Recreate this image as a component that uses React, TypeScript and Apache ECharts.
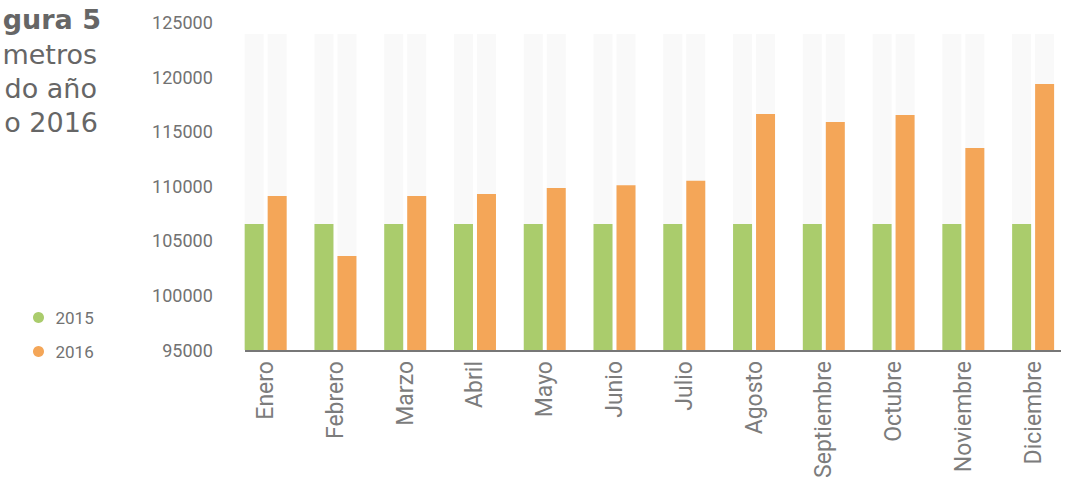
import React, { useEffect, useRef } from "react";
import * as echarts from "echarts";

const months = ["Enero", "Febrero", "Marzo", "Abril", "Mayo", "Junio", "Julio", "Agosto", "Septiembre", "Octubre", "Noviembre", "Diciembre"];
const values2015 = [106550, 106550, 106550, 106550, 106550, 106550, 106550, 106550, 106550, 106550, 106550, 106550];
const values2016 = [109100, 103600, 109100, 109300, 109850, 110100, 110500, 116620, 115890, 116530, 113500, 119370];
const backgroundValues = [123950, 123950, 123950, 123950, 123950, 123950, 123950, 123950, 123950, 123950, 123950, 123950];
const yTicks = { min: 95000, max: 125000, interval: 5000 };
const titleLines = ["gura 5", "metros", "do año", "o 2016"];

const FONT = "Roboto, 'DejaVu Sans', sans-serif";
const TITLE_FONT = "'DejaVu Sans', sans-serif";

export default function App() {
  const ref = useRef<HTMLDivElement>(null);
  useEffect(() => {
    document.body.style.margin = "0";
    const chart = echarts.init(ref.current!, null, { renderer: "svg" });
    const barWidth = 19;
    const barGap = "21%";
    chart.setOption({
      animation: false,
      textStyle: { fontFamily: FONT },
      grid: { left: 230.8, right: -7.1, top: 22.5, bottom: 135, containLabel: false },
      legend: {
        data: ["2015", "2016"],
        orient: "vertical",
        left: 28,
        top: 304,
        icon: "circle",
        itemWidth: 24,
        itemHeight: 11,
        itemGap: 17,
        textStyle: { fontSize: 17, color: "#727272", fontFamily: FONT },
      },
      xAxis: [
        {
          type: "category",
          data: months,
          axisLine: { show: false },
          axisTick: { show: false },
          axisLabel: { rotate: 90, interval: 0, fontSize: 23, color: "#7c7c7c", margin: 11, fontFamily: FONT },
        },
        { type: "category", data: months, show: false },
      ],
      yAxis: {
        type: "value",
        min: yTicks.min,
        max: yTicks.max,
        interval: yTicks.interval,
        splitLine: { show: false },
        axisLine: { show: false },
        axisTick: { show: false },
        axisLabel: { fontSize: 18, color: "#727272", margin: 18, fontFamily: FONT, formatter: (v: number) => String(v) },
      },
      series: [
        { name: "bg2015", type: "bar", xAxisIndex: 1, data: backgroundValues, barWidth, barGap, itemStyle: { color: "#f9f9f9" }, silent: true, z: 1 },
        { name: "bg2016", type: "bar", xAxisIndex: 1, data: backgroundValues, barWidth, barGap, itemStyle: { color: "#f9f9f9" }, silent: true, z: 1 },
        { name: "2015", type: "bar", xAxisIndex: 0, data: values2015, barWidth, barGap, itemStyle: { color: "#aacc6c" }, z: 2 },
        { name: "2016", type: "bar", xAxisIndex: 0, data: values2016, barWidth, barGap, itemStyle: { color: "#f4a658" }, z: 2 },
      ],
      graphic: [
        { type: "line", shape: { x1: 245, y1: 351, x2: 1061, y2: 351 }, style: { stroke: "#777777", lineWidth: 2 }, z: 10 },
        { type: "text", right: 1068 - 101, top: 6, style: { text: titleLines[0], font: `bold 27px ${TITLE_FONT}`, fill: "#666666", textAlign: "right" } },
        { type: "text", right: 1068 - 97, top: 41, style: { text: titleLines[1], font: `27px ${TITLE_FONT}`, fill: "#666666", textAlign: "right" } },
        { type: "text", right: 1068 - 97, top: 75, style: { text: titleLines[2], font: `27px ${TITLE_FONT}`, fill: "#666666", textAlign: "right" } },
        { type: "text", right: 1068 - 98, top: 109, style: { text: titleLines[3], font: `27px ${TITLE_FONT}`, fill: "#666666", textAlign: "right" } },
      ],
    });
    return () => chart.dispose();
  }, []);
  return <div ref={ref} style={{ width: 1068, height: 485 }} />;
}
